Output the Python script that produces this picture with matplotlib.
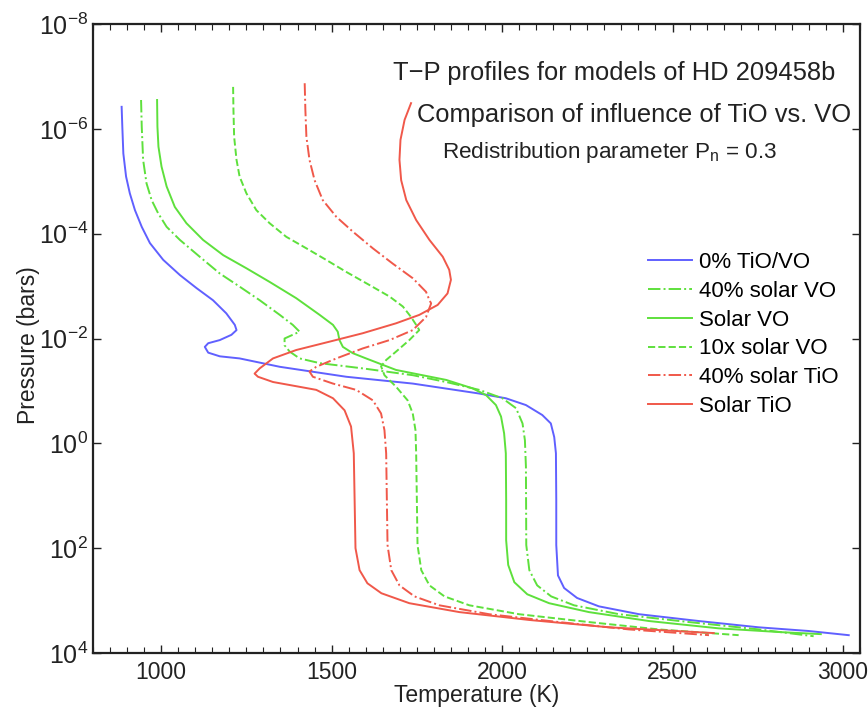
import numpy as np
import matplotlib
matplotlib.use("Agg")
import matplotlib.pyplot as plt
from matplotlib.ticker import MultipleLocator, FixedLocator, NullLocator

plt.rcParams['font.family'] = ['Liberation Sans', 'DejaVu Sans']
plt.rcParams['mathtext.fontset'] = 'custom'
plt.rcParams['mathtext.rm'] = 'Liberation Sans'
plt.rcParams['mathtext.it'] = 'Liberation Sans:italic'
plt.rcParams['mathtext.bf'] = 'Liberation Sans:bold'

# T-P profiles: temperature (K) and log10 of pressure (bars)
t_none = [884, 886, 889, 897, 908, 923, 943, 967, 1006, 1055, 1104, 1152, 1191, 1216, 1221, 1206,
          1172, 1138, 1128, 1138, 1172, 1230, 1348, 1543, 1738, 1933, 2011, 2070, 2118, 2143, 2153,
          2158, 2159, 2159, 2164, 2182, 2220, 2284, 2402, 2577, 2753, 2899, 3017]
lp_none = [-6.42, -6.04, -5.53, -5.09, -4.77, -4.45, -4.13, -3.82, -3.50, -3.21, -2.96, -2.73, -2.48,
           -2.26, -2.16, -2.07, -1.97, -1.91, -1.84, -1.73, -1.66, -1.62, -1.46, -1.27, -1.14, -0.95,
           -0.86, -0.73, -0.54, -0.38, -0.12, 0.19, 1.08, 1.94, 2.52, 2.76, 2.95, 3.11, 3.26, 3.39,
           3.51, 3.58, 3.66]

t_vo40 = [941, 943, 947, 957, 972, 991, 1016, 1055, 1113, 1172, 1230, 1289, 1348, 1386, 1406, 1362,
          1362, 1377, 1406, 1465, 1591, 1738, 1836, 1933, 2001, 2041, 2060, 2067, 2070, 2071, 2080,
          2103, 2144, 2211, 2343, 2548, 2753, 2914]
lp_vo40 = [-6.55, -6.04, -5.41, -4.96, -4.64, -4.39, -4.13, -3.88, -3.56, -3.24, -2.99, -2.73, -2.45,
           -2.26, -2.13, -2.00, -1.87, -1.75, -1.62, -1.53, -1.43, -1.30, -1.17, -1.02, -0.86, -0.67,
           -0.38, -0.06, 0.45, 1.94, 2.42, 2.71, 2.92, 3.09, 3.26, 3.41, 3.55, 3.68]

t_vo = [988, 989, 992, 1001, 1016, 1040, 1074, 1123, 1182, 1250, 1318, 1396, 1465, 1504, 1518, 1523,
        1533, 1562, 1601, 1689, 1836, 1913, 1953, 1982, 1997, 2006, 2011, 2012, 2012, 2018, 2036,
        2074, 2138, 2255, 2431, 2636, 2812, 2935]
lp_vo = [-6.55, -6.04, -5.66, -5.28, -4.90, -4.51, -4.20, -3.88, -3.59, -3.34, -3.08, -2.77, -2.45,
         -2.26, -2.13, -1.97, -1.84, -1.72, -1.62, -1.40, -1.21, -1.05, -0.92, -0.73, -0.51, -0.19,
         0.19, 1.08, 1.85, 2.32, 2.65, 2.88, 3.05, 3.22, 3.39, 3.53, 3.60, 3.64]

t_vo10 = [1211, 1212, 1214, 1221, 1230, 1250, 1279, 1318, 1367, 1426, 1484, 1543, 1611, 1670, 1709,
          1733, 1752, 1757, 1728, 1689, 1660, 1645, 1655, 1689, 1723, 1738, 1746, 1748, 1752, 1763,
          1787, 1831, 1904, 2050, 2255, 2460, 2694]
lp_vo10 = [-6.80, -6.36, -5.85, -5.41, -5.09, -4.77, -4.45, -4.20, -3.94, -3.72, -3.50, -3.27, -3.02,
           -2.80, -2.61, -2.41, -2.22, -2.16, -1.97, -1.75, -1.59, -1.47, -1.30, -1.08, -0.82, -0.57,
           -0.25, 0.19, 1.94, 2.42, 2.71, 2.92, 3.09, 3.26, 3.41, 3.55, 3.66]

t_tio40 = [1421, 1423, 1426, 1435, 1450, 1474, 1514, 1562, 1621, 1679, 1738, 1777, 1787, 1792, 1777,
           1738, 1670, 1591, 1514, 1455, 1435, 1445, 1504, 1572, 1621, 1645, 1655, 1660, 1664, 1675,
           1699, 1743, 1816, 1962, 2167, 2372, 2607]
lp_tio40 = [-6.87, -6.36, -5.85, -5.41, -5.02, -4.64, -4.32, -4.04, -3.72, -3.43, -3.15, -2.89, -2.73,
            -2.67, -2.41, -2.16, -1.97, -1.81, -1.62, -1.46, -1.37, -1.27, -1.14, -1.02, -0.82, -0.57,
            -0.25, 0.19, 1.94, 2.42, 2.71, 2.92, 3.09, 3.26, 3.41, 3.55, 3.66]

t_tio = [1733, 1714, 1702, 1699, 1704, 1719, 1748, 1787, 1826, 1845, 1850, 1840, 1811, 1757, 1689,
         1591, 1494, 1396, 1328, 1289, 1274, 1284, 1328, 1396, 1455, 1504, 1538, 1557, 1565, 1570,
         1582, 1605, 1646, 1728, 1875, 2080, 2314, 2621]
lp_tio = [-6.49, -6.17, -5.79, -5.41, -5.02, -4.64, -4.26, -3.88, -3.56, -3.31, -3.12, -2.86, -2.64,
          -2.45, -2.29, -2.10, -1.94, -1.78, -1.62, -1.43, -1.33, -1.27, -1.17, -1.09, -1.02, -0.86,
          -0.63, -0.32, 0.19, 2.00, 2.42, 2.67, 2.86, 3.05, 3.22, 3.37, 3.51, 3.62]

labels = ['0% TiO/VO', '40% solar VO', 'Solar VO', '10x solar VO', '40% solar TiO', 'Solar TiO']
temps = [t_none, t_vo40, t_vo, t_vo10, t_tio40, t_tio]
logps = [lp_none, lp_vo40, lp_vo, lp_vo10, lp_tio40, lp_tio]
colors = ['#6060ff', '#5ee03c', '#5ee03c', '#5ee03c', '#f0584a', '#f0584a']
styles = ['-', '-.', '-', '--', '-.', '-']

fig = plt.figure(figsize=(8.68, 7.1), dpi=100)
ax = fig.add_axes([93 / 868, 1 - 653 / 710, 767 / 868, 629 / 710])

for t, lp, c, ls, lab in zip(temps, logps, colors, styles, labels):
    ax.plot(t, 10.0 ** np.array(lp), color=c, linestyle=ls, linewidth=1.4, label=lab)

ax.set_yscale('log')
ax.set_xlim(800, 3050)
ax.set_ylim(1e4, 1e-8)
ax.yaxis.set_major_locator(FixedLocator([1e-8, 1e-6, 1e-4, 1e-2, 1e0, 1e2, 1e4]))
ax.yaxis.set_minor_locator(NullLocator())
ax.set_yticklabels([r'$10^{-8}$', r'$10^{-6}$', r'$10^{-4}$', r'$10^{-2}$',
                    r'$10^{0}$', r'$10^{2}$', r'$10^{4}$'])
ax.xaxis.set_major_locator(MultipleLocator(500))
ax.xaxis.set_minor_locator(MultipleLocator(50))

ax.tick_params(which='both', direction='in', top=True, right=True, colors='#222222')
ax.tick_params(axis='x', labelsize=16.5, pad=6)
ax.tick_params(axis='y', labelsize=18, pad=3.5)
ax.tick_params(which='major', length=6, width=1)
ax.tick_params(which='minor', length=4, width=0.8)
for s in ax.spines.values():
    s.set_linewidth(1.6)
    s.set_color('#222222')

ax.set_xlabel('Temperature (K)', fontsize=16.5, labelpad=0, color='#222222')
ax.set_ylabel('Pressure (bars)', fontsize=16.5, color='#222222')
ax.yaxis.set_label_coords(-0.069, 0.49)

ax.text(0.6795, 0.9219, 'T\u2212P profiles for models of HD 209458b', transform=ax.transAxes,
        ha='center', va='center', fontsize=18.4, color='#222222')
ax.text(0.7054, 0.8550, 'Comparison of influence of TiO vs. VO', transform=ax.transAxes,
        ha='center', va='center', fontsize=18.4, color='#222222')
ax.text(0.6741, 0.7960, r'Redistribution parameter $\mathrm{P_n}$ = 0.3', transform=ax.transAxes,
        ha='center', va='center', fontsize=16.2, color='#222222')

leg = ax.legend(loc='upper left', bbox_to_anchor=(0.7236, 0.6375), frameon=False,
                fontsize=16, handlelength=2.0, handletextpad=0.3, labelspacing=0.35,
                borderpad=0, borderaxespad=0)

fig.savefig('out.png', dpi=100)
